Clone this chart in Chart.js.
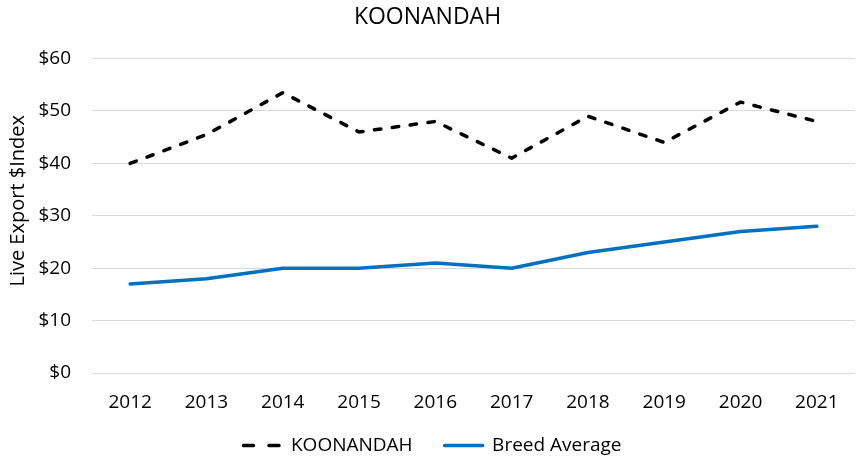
<!DOCTYPE html>
<html><head><meta charset="utf-8">
<script src="https://cdn.jsdelivr.net/npm/chart.js@4/dist/chart.umd.min.js"></script>
<style>html,body{margin:0;padding:0;background:#fff}#wrap{width:858px;height:460px}</style>
</head><body><div id="wrap"><canvas id="c" width="858" height="460"></canvas></div>
<script>
const years = ['2012','2013','2014','2015','2016','2017','2018','2019','2020','2021'];
const koonandah = [40, 45.5, 53.5, 46, 48, 41, 49, 44, 51.7, 48];
const breedAverage = [17, 18, 20, 20, 21, 20, 23, 25, 27, 28];
const yTicks = [0, 10, 20, 30, 40, 50, 60];
const font = "'Open Sans', 'Noto Sans', sans-serif";
const Y_AXIS_W = 92, X_AXIS_H = 40, LEGEND_H = 47, LEGEND_SHIFT = 9, LEGEND_X_SHIFT = 5, Y_TITLE_SHIFT = 15;
const legendFix = {
  id: 'legendFix',
  beforeLayout(chart) {
    const lg = chart.legend;
    if (lg && !lg._fixed) {
      lg._fixed = true;
      const fit = lg.fit.bind(lg);
      lg.fit = function () { fit(); this.height = LEGEND_H; };
    }
  },
  afterLayout(chart) {
    const lg = chart.legend;
    if (lg) { lg.top -= LEGEND_SHIFT; lg.left += LEGEND_X_SHIFT; lg.right += LEGEND_X_SHIFT; }
  }
};
new Chart(document.getElementById('c'), {
  type: 'line',
  data: {
    labels: years,
    datasets: [
      {label: 'KOONANDAH', data: koonandah, borderColor: '#000', backgroundColor: '#000', borderWidth: 3.5, borderDash: [6.5, 11.5], pointRadius: 0, tension: 0, borderCapStyle: 'round', borderJoinStyle: 'round'},
      {label: 'Breed Average', data: breedAverage, borderColor: '#0070C0', backgroundColor: '#0070C0', borderWidth: 3.5, pointRadius: 0, tension: 0, borderCapStyle: 'round', borderJoinStyle: 'round'}
    ]
  },
  plugins: [legendFix],
  options: {
    responsive: false, animation: false,
    layout: {padding: {left: 0, right: 3, top: 0, bottom: 0}},
    plugins: {
      title: {display: true, text: 'KOONANDAH', color: '#000', font: {family: font, size: 23, weight: 'normal'}, padding: {top: 4, bottom: 27}},
      legend: {position: 'bottom', labels: {color: '#000', font: {family: font, size: 19}, usePointStyle: true, pointStyleWidth: 38, boxWidth: 38, boxHeight: 19, padding: 32,
        generateLabels(chart) {
          return chart.data.datasets.map((d, i) => ({text: d.label, pointStyle: 'line', strokeStyle: d.borderColor, fillStyle: d.borderColor, lineWidth: 3.5, lineCap: 'round', lineDash: d.borderDash ? [10, 15.5] : [], hidden: false, datasetIndex: i, fontColor: '#000'}));
        }}},
      tooltip: {enabled: false}
    },
    scales: {
      x: {offset: true, grid: {display: false, drawTicks: false}, border: {display: false},
        afterFit(s) { s.height = X_AXIS_H; },
        ticks: {color: '#000', font: {family: font, size: 19}, padding: 18}},
      y: {min: 0, max: 60, afterBuildTicks(s) { s.ticks = yTicks.map(v => ({value: v})); },
        afterFit(s) {
          s.width = Y_AXIS_W;
          if (!s._titleFix) {
            s._titleFix = true;
            const dt = s.drawTitle.bind(s);
            s.drawTitle = function () { const c = this.ctx; c.save(); c.translate(0, -Y_TITLE_SHIFT); dt(); c.restore(); };
          }
        },
        grid: {color: '#d9d9d9', lineWidth: 1, drawTicks: false}, border: {display: false},
        ticks: {color: '#000', font: {family: font, size: 19}, padding: 21, callback: v => '$' + v},
        title: {display: true, text: 'Live Export $Index', color: '#000', font: {family: font, size: 20}, padding: {top: 6, bottom: 0}}}
    }
  }
});
</script></body></html>
